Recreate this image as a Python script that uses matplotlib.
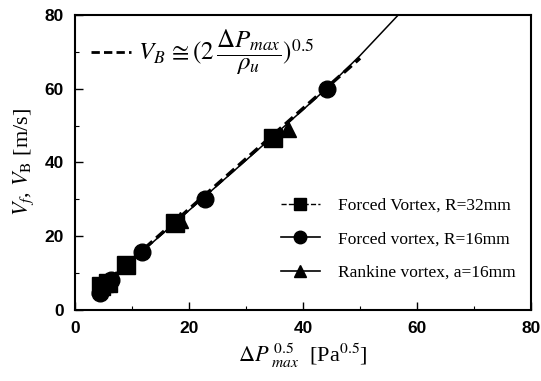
import numpy as np
import matplotlib.pyplot as plt
from matplotlib.lines import Line2D
from matplotlib.ticker import MultipleLocator

plt.rcParams['mathtext.fontset'] = 'stix'

# data
sq_x = [4.5, 5.8, 9.0, 17.5, 34.8]
sq_y = [6.5, 7.2, 12.2, 23.5, 46.6]
ci_x = [4.4, 6.3, 11.7, 22.8, 44.2]
ci_y = [4.5, 8.1, 15.6, 30.1, 59.9]
tr_x = [5.2, 18.4, 37.4]
tr_y = [7.0, 24.4, 49.0]

# solid fit curve
fit_x = [4.0, 10.0, 20.0, 30.0, 40.0, 44.0, 50.0, 56.7, 58.0]
fit_y = [5.3, 13.4, 27.0, 40.6, 54.3, 59.9, 69.0, 80.0, 82.0]
# dashed theory line V_B = (2 dP / rho)^0.5
th_x = [4.0, 50.0]
th_y = [5.5, 68.3]

fig = plt.figure(figsize=(5.41, 3.81), dpi=100)
ax = fig.add_axes([0.1386, 0.1864, 0.843, 0.7742])

ax.plot(fit_x, fit_y, 'k-', lw=1.1)
ax.plot(th_x, th_y, 'k--', lw=2.5, dashes=(3, 1.5))
ax.plot(sq_x, sq_y, 'ks', ms=13, ls='none')
ax.plot(ci_x, ci_y, 'ko', ms=12, ls='none')
ax.plot(tr_x, tr_y, 'k^', ms=12, ls='none')

ax.set_xlim(0, 80)
ax.set_ylim(0, 80)
ax.xaxis.set_major_locator(MultipleLocator(20))
ax.xaxis.set_minor_locator(MultipleLocator(10))
ax.yaxis.set_major_locator(MultipleLocator(20))
ax.yaxis.set_minor_locator(MultipleLocator(10))
ax.tick_params(which='major', direction='in', length=6, width=1, pad=8)
ax.tick_params(which='minor', direction='in', length=3, width=0.8)
for s in ax.spines.values():
    s.set_linewidth(1.5)
for lab in ax.get_xticklabels() + ax.get_yticklabels():
    lab.set_family('Liberation Sans')
    lab.set_fontweight('bold')
    lab.set_fontsize(12.5)

ax.set_xlabel(r'$\Delta P_{\ max}^{\ 0.5}$  [Pa$^{0.5}$]', fontsize=16, family='Liberation Serif', labelpad=4)
ax.set_ylabel(r'$V_f$, $V_\mathrm{B}$ [m/s]', fontsize=16, family='Liberation Serif', labelpad=6)

# formula legend
h0 = [Line2D([], [], color='k', ls='--', lw=2, dashes=(3, 1.5))]
leg0 = ax.legend(h0, [r'$V_B\,\cong(2\,\dfrac{\Delta P_{max}}{\rho_u})^{0.5}$'],
                 loc='upper left', bbox_to_anchor=(0.035, 0.955), frameon=False,
                 fontsize=18, handlelength=1.6, handletextpad=0.3,
                 borderaxespad=0, borderpad=0)
ax.add_artist(leg0)

h = [Line2D([], [], color='k', ls='--', lw=1, marker='s', ms=9),
     Line2D([], [], color='k', ls='-', lw=1.2, marker='o', ms=9),
     Line2D([], [], color='k', ls='-', lw=1.2, marker='^', ms=9)]
labels = ['Forced Vortex, R=32mm', 'Forced vortex, R=16mm', 'Rankine vortex, a=16mm']
ax.legend(h, labels, loc='lower right', bbox_to_anchor=(1.0, 0.045), frameon=False,
          prop={'family': 'Liberation Serif', 'size': 12.5}, handlelength=2.3,
          handletextpad=1.0, labelspacing=1.0)

fig.savefig('out.png', dpi=100)
